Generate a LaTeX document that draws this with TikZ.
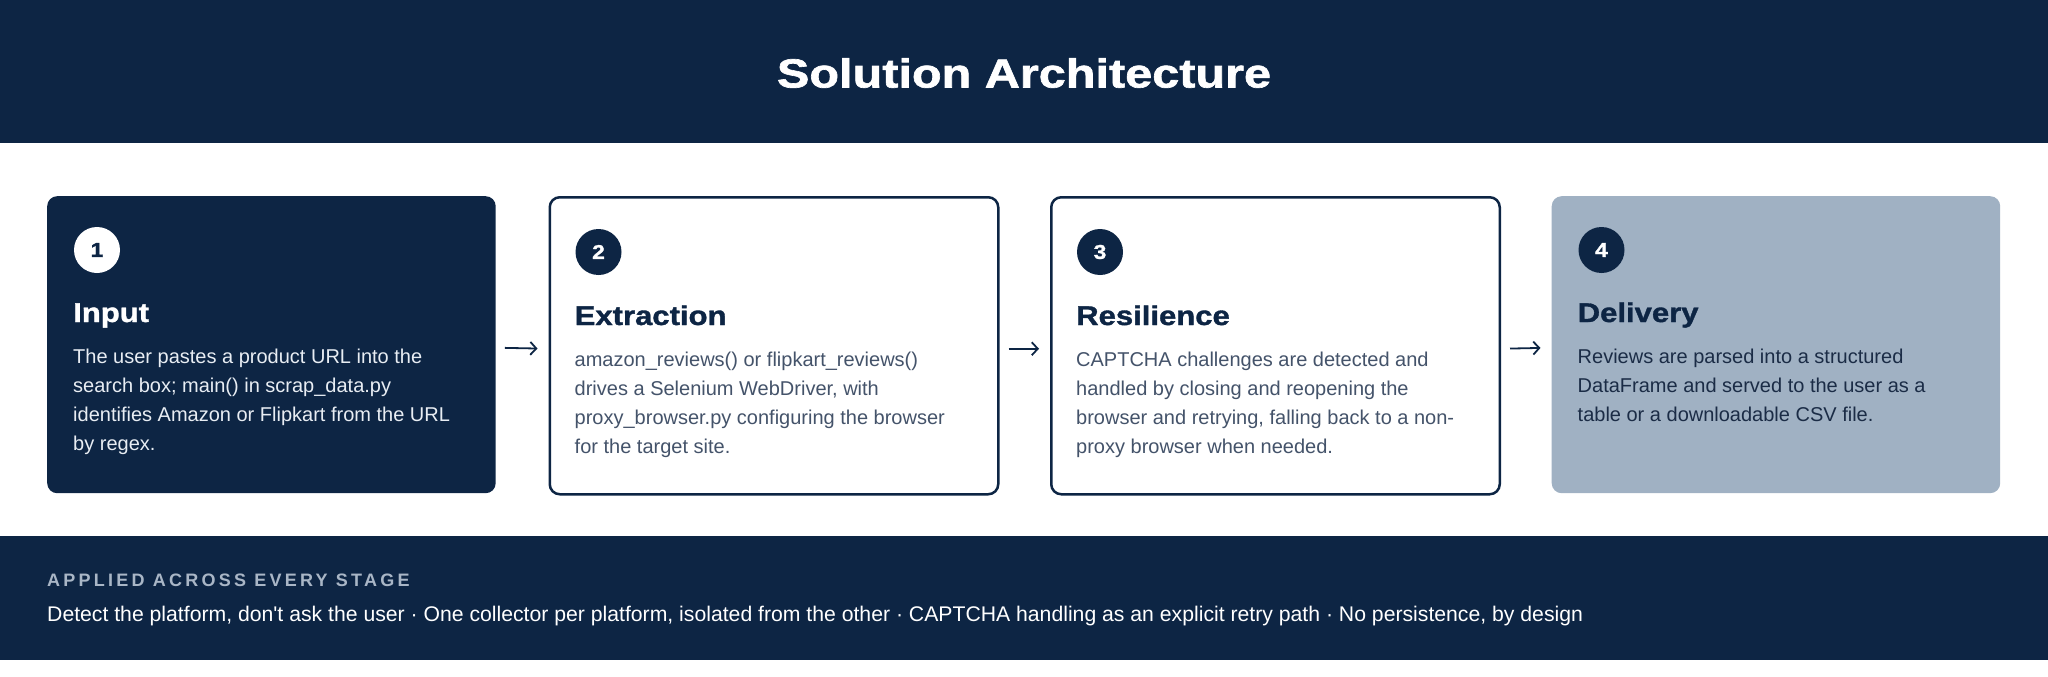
\documentclass[tikz,border=0pt]{standalone}
\usepackage{fontspec}
\setmainfont{Liberation Sans}[Ligatures=TeXOff]
\newfontfamily\titlefont{Liberation Sans Bold}[FakeStretch=1.2, FakeBold=1.6]
\newfontfamily\headfont{Liberation Sans Bold}[FakeStretch=1.15, FakeBold=1.3]
\newfontfamily\trackfont{Liberation Sans Bold}[LetterSpace=18]
\usetikzlibrary{arrows.meta}

\definecolor{navy}{HTML}{0D2544}
\definecolor{mist}{HTML}{A0B1C3}
\definecolor{slatetext}{HTML}{44536A}
\definecolor{paletext}{HTML}{E8EDF3}
\definecolor{deeptext}{HTML}{1B2C46}
\definecolor{labelgrey}{HTML}{A9B6C6}

\tikzset{
  card/.style={rounded corners=10pt, minimum width=448.5pt, minimum height=297pt, inner sep=0pt, anchor=north west},
  outlinecard/.style={card, draw=navy, line width=2.5pt, fill=white},
  numdot/.style={circle, minimum size=46pt, inner sep=0pt, font=\headfont\fontsize{20}{24}\selectfont},
  cardhead/.style={anchor=base west, inner sep=0pt, font=\headfont\fontsize{27}{32}\selectfont},
  cardtext/.style={anchor=base west, inner sep=0pt, align=left, font=\fontsize{20}{29}\selectfont},
  flow/.style={draw=navy, line width=1.8pt, -{Straight Barb[length=6pt,width=13pt]}, shorten <=9pt, shorten >=11pt}
}

\begin{document}
\begin{tikzpicture}[x=1pt,y=-1pt]
\useasboundingbox (0,0) rectangle (2048,677);
% bands
\fill[navy] (0,0) rectangle (2048,143);
\fill[navy] (0,536) rectangle (2048,660);
\node[text=white, font=\titlefont\fontsize{40.5}{46}\selectfont] (title) at (1024,73) {Solution Architecture};

% stage cards
\node[card, fill=navy] (input) at (47,196) {};
\node[outlinecard] (extract) at (548.5,196) {};
\node[outlinecard] (resil) at (1050,196) {};
\node[card, fill=mist] (deliver) at (1551.5,196) {};

\node[numdot, fill=white, text=navy] (n1) at (97,250) {1};
\node[numdot, fill=navy, text=white] (n2) at (598.5,252) {2};
\node[numdot, fill=navy, text=white] (n3) at (1100,252) {3};
\node[numdot, fill=navy, text=white] (n4) at (1601.5,250) {4};

\node[cardhead, text=white] (h1) at (73,322) {Input};
\node[cardhead, text=navy] (h2) at (574.5,325) {Extraction};
\node[cardhead, text=navy] (h3) at (1076,325) {Resilience};
\node[cardhead, text=navy] (h4) at (1577.5,322) {Delivery};

% base anchor sits on the last line
\node[cardtext, text=paletext] (t1) at (73,450) {The user pastes a product URL into the\\search box; main() in scrap\_data.py\\identifies Amazon or Flipkart from the URL\\by regex.};
\node[cardtext, text=slatetext] (t2) at (574.5,453) {amazon\_reviews() or flipkart\_reviews()\\drives a Selenium WebDriver, with\\proxy\_browser.py configuring the browser\\for the target site.};
\node[cardtext, text=slatetext] (t3) at (1076,453) {CAPTCHA challenges are detected and\\handled by closing and reopening the\\browser and retrying, falling back to a non-\\proxy browser when needed.};
\node[cardtext, text=deeptext] (t4) at (1577.5,421) {Reviews are parsed into a structured\\DataFrame and served to the user as a\\table or a downloadable CSV file.};

\draw[flow] ([yshift=-3pt]input.east) -- ([yshift=-3pt]extract.west);
\draw[flow] ([yshift=-3pt]extract.east) -- ([yshift=-3pt]resil.west);
\draw[flow] ([yshift=-3pt]resil.east) -- ([yshift=-3pt]deliver.west);

% footer
\node[anchor=base west, inner sep=0pt, text=labelgrey, font=\trackfont\fontsize{18}{22}\selectfont] (applied) at (47,586) {APPLIED ACROSS EVERY STAGE};
\node[anchor=base west, inner sep=0pt, text=white, font=\fontsize{21.2}{24}\selectfont] (principles) at (47,621) {Detect the platform, don't ask the user · One collector per platform, isolated from the other · CAPTCHA handling as an explicit retry path · No persistence, by design};
\end{tikzpicture}
\end{document}
